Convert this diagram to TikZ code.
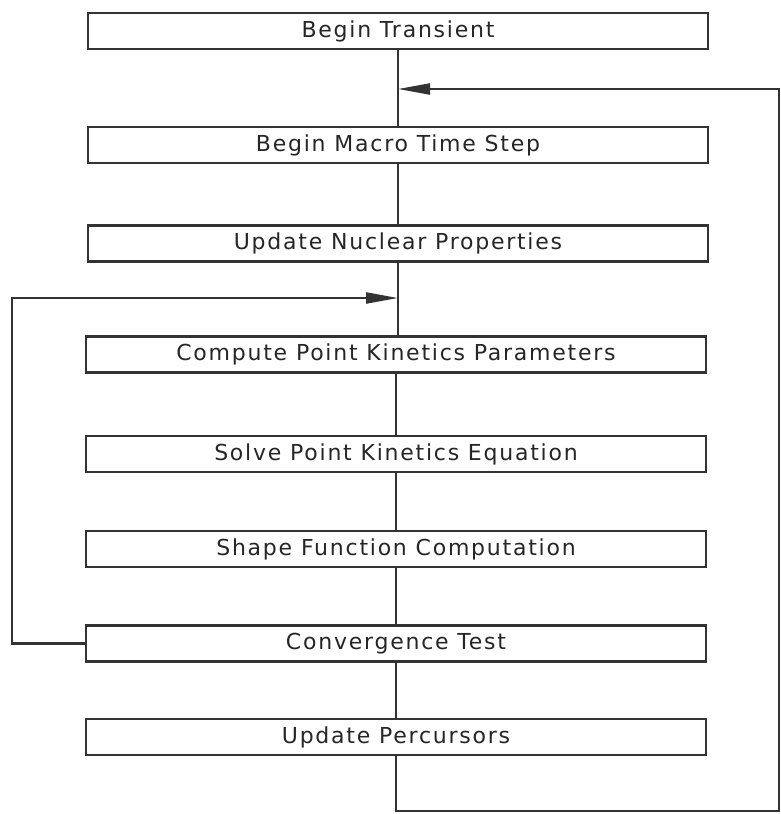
\documentclass[tikz,border=0pt]{standalone}
\usepackage{fontspec}
\setmainfont{DejaVu Sans}[LetterSpace=8]
\usetikzlibrary{arrows.meta}
\begin{document}
\begin{tikzpicture}[x=1pt,y=-1pt,
  box/.style={draw=black!80, fill=white, line width=2.6pt, minimum width=620pt, minimum height=36pt, inner sep=0pt, font=\fontsize{22}{24}\selectfont, text=black!85},
  conn/.style={draw=black!80, line width=2.2pt},
  arr/.style={conn, -{Triangle[length=32pt,width=11pt]}}]
\useasboundingbox (0,0) rectangle (781,814);
\node[box] (b1) at (398,31) {Begin Transient};
\node[box] (b2) at (398,145) {Begin Macro Time Step};
\node[box] (b3) at (398,243.5) {Update Nuclear Properties};
\node[box] (b4) at (396,354.5) {Compute Point Kinetics Parameters};
\node[box] (b5) at (396,454) {Solve Point Kinetics Equation};
\node[box] (b6) at (396,549) {Shape Function Computation};
\node[box] (b7) at (396,643.5) {Convergence Test};
\node[box] (b8) at (396,737) {Update Percursors};
\coordinate (r1) at (779,811);
\coordinate (r2) at (779,89);
\coordinate (l1) at (12,643.5);
\coordinate (l2) at (12,298);
\draw[conn] (b1.south) -- (b2.north);
\draw[conn] (b2.south) -- (b3.north);
\draw[conn] (b3.south) -- (b3.south |- b4.north);
\draw[conn] (b4.south) -- (b5.north);
\draw[conn] (b5.south) -- (b6.north);
\draw[conn] (b6.south) -- (b7.north);
\draw[conn] (b7.south) -- (b8.north);
\draw[arr] (b8.south) -- (b8.south |- r1) -- (r1) -- (r2) -- (b1.south |- r2);
\draw[arr] (b7.west) -- (l1) -- (l2) -- (b3.south |- l2);
\end{tikzpicture}
\end{document}
